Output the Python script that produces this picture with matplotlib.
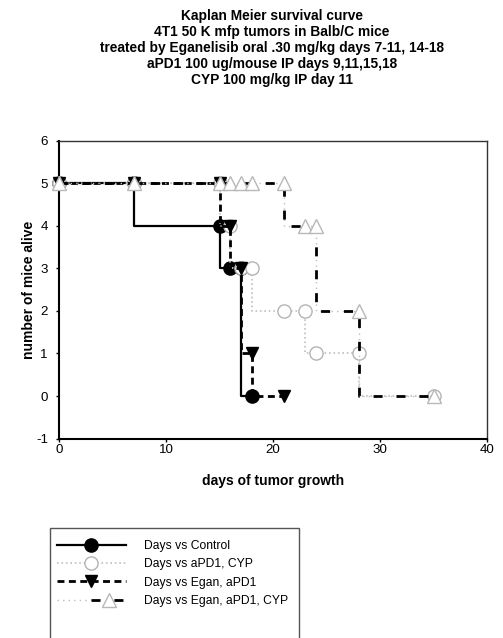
import matplotlib
matplotlib.use("Agg")
import matplotlib.pyplot as plt
from matplotlib.patches import Rectangle
from matplotlib.legend_handler import HandlerTuple

plt.rcParams['font.family'] = ['Liberation Sans', 'DejaVu Sans']
plt.rcParams['lines.scale_dashes'] = False
plt.rcParams['axes.unicode_minus'] = False

# ---- data (days, mice alive) ----
ctrl_days = [0, 7, 15, 16, 17, 18]
ctrl_alive = [5, 5, 4, 3, 3, 0]

apd1_cyp_days = [0, 7, 15, 16, 17, 18, 21, 23, 24, 28, 35]
apd1_cyp_alive = [5, 5, 5, 4, 3, 3, 2, 2, 1, 1, 0]

egan_apd1_days = [0, 7, 15, 16, 17, 18, 21]
egan_apd1_alive = [5, 5, 5, 4, 3, 1, 0]

egan_apd1_cyp_days = [0, 7, 15, 16, 17, 18, 21, 23, 24, 28, 35]
egan_apd1_cyp_alive = [5, 5, 5, 5, 5, 5, 5, 4, 4, 2, 0]

labels = ["Days vs Control", "Days vs aPD1, CYP", "Days vs Egan, aPD1",
          "Days vs Egan, aPD1, CYP"]
x_ticks = [0, 10, 20, 30, 40]
y_ticks = [-1, 0, 1, 2, 3, 4, 5, 6]

title_lines = ["Kaplan Meier survival curve",
               "4T1 50 K mfp tumors in Balb/C mice",
               "treated by Eganelisib oral .30 mg/kg days 7-11, 14-18",
               "aPD1 100 ug/mouse IP days 9,11,15,18",
               "CYP 100 mg/kg IP day 11"]

W, H = 503, 638
fig = plt.figure(figsize=(W / 100, H / 100), dpi=100)
ax = fig.add_axes([59 / W, 1 - 438.6 / H, 428 / W, 298 / H])

h1, = ax.plot(ctrl_days, ctrl_alive, drawstyle='steps-pre', color='black', lw=1.6,
              marker='o', ms=9.5, mfc='black', mec='black', clip_on=False, zorder=3)
h2, = ax.plot(apd1_cyp_days, apd1_cyp_alive, drawstyle='steps-pre', color='#c4c4c4',
              lw=1.3, linestyle=(0, (1.2, 2.0)), marker='o', ms=9.5, mfc='white',
              mec='#b4b4b4', mew=1.0, clip_on=False, zorder=4)
h3, = ax.plot(egan_apd1_days, egan_apd1_alive, drawstyle='steps-pre', color='black',
              lw=2.0, linestyle=(0, (5.0, 3.2)), marker='v', ms=9, mfc='black',
              mec='black', clip_on=False, zorder=5)
h4a, = ax.plot(egan_apd1_cyp_days, egan_apd1_cyp_alive, drawstyle='steps-pre',
               color='#bdbdbd', lw=1.0, linestyle=(0, (1.0, 3.0)), clip_on=False, zorder=6)
h4, = ax.plot(egan_apd1_cyp_days, egan_apd1_cyp_alive, drawstyle='steps-pre',
              color='black', lw=2.0, linestyle=(0, (6.5, 10.0)), marker='^', ms=9.5,
              mfc='white', mec='#b8b8b8', mew=1.0, clip_on=False, zorder=7)

ax.set_xlim(0, 40)
ax.set_ylim(-1, 6)
ax.set_xticks(x_ticks)
ax.set_yticks(y_ticks)
ax.tick_params(direction='out', length=2.5, width=1, labelsize=9.6)
ax.tick_params(axis='x', pad=1.5)
ax.tick_params(axis='y', pad=5.5)
for s in ['left', 'bottom']:
    ax.spines[s].set_linewidth(1.5)
for s in ['top', 'right']:
    ax.spines[s].set_linewidth(1.0)
    ax.spines[s].set_color('#333333')

ax.set_xlabel("days of tumor growth", fontsize=10, fontweight='bold', labelpad=12.5)
ax.set_ylabel("number of mice alive", fontsize=10, fontweight='bold', labelpad=0)

fig.text(272 / W, 1 - 48 / H, "\n".join(title_lines), ha='center', va='center',
         fontsize=9.9, fontweight='bold', linespacing=1.17)

# legend
fig.patches.append(Rectangle((50 / W, -0.05), 249 / W, 0.05 + 1 - 528 / H,
                             transform=fig.transFigure, fill=False,
                             edgecolor='#555555', lw=1.0, clip_on=False))
leg = fig.legend([h1, h2, h3, (h4a, h4)], labels,
                 handler_map={tuple: HandlerTuple(ndivide=None, pad=0)},
                 loc='upper left', bbox_to_anchor=(57 / W, 1 - 540 / H),
                 frameon=False, fontsize=8.7, borderpad=0, borderaxespad=0,
                 handlelength=5.7, handletextpad=1.5, labelspacing=0.52,
                 markerscale=1.0)

fig.savefig("out.png", dpi=100)
